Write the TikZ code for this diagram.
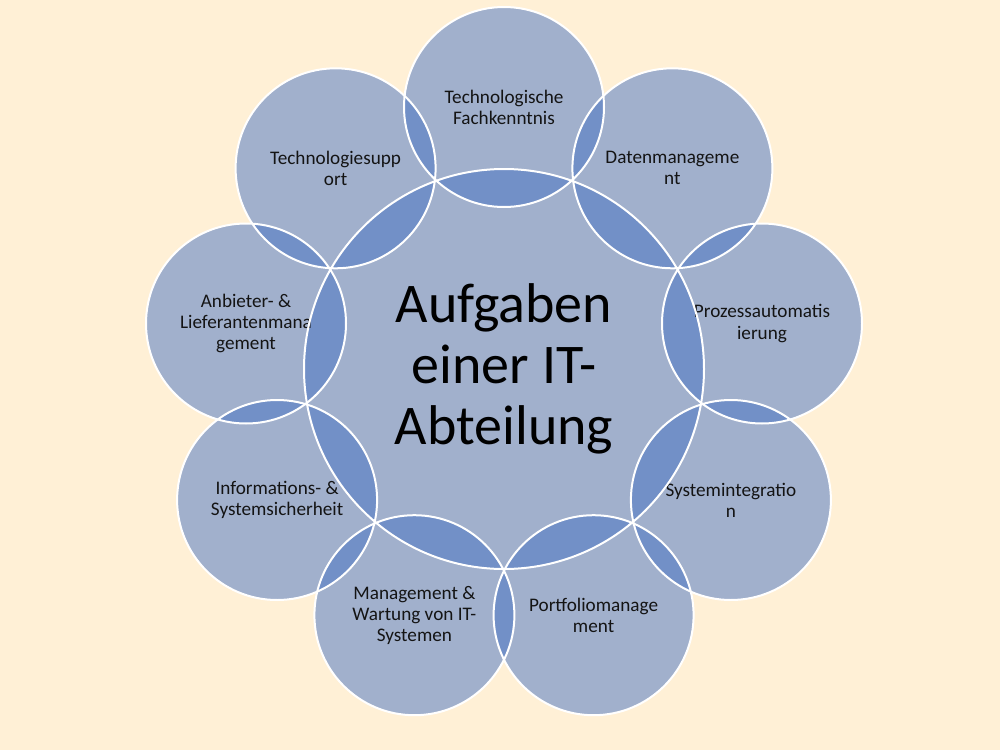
\documentclass[tikz,border=0pt]{standalone}
\usepackage{fontspec}
\setmainfont{Carlito}
\definecolor{bg}{RGB}{255,240,214}
\definecolor{acc}{RGB}{68,114,196}
\definecolor{txt}{RGB}{20,20,20}
\begin{document}
\begin{tikzpicture}[x=0.75pt,y=-0.75pt,
  ring/.style={circle, inner sep=0pt, minimum size=150pt, fill=acc, fill opacity=0.5, text opacity=1, text=txt, align=center, font=\fontsize{14.4}{15.8}\selectfont},
  hub/.style={circle, inner sep=0pt, minimum size=300pt, fill=acc, fill opacity=0.5, text opacity=1, text=black, align=center, font=\fontsize{42}{46}\selectfont},
  rim/.style={draw=white, line width=1.5pt}]
\fill[bg] (0,0) rectangle (1000,750);
\useasboundingbox (0,0) rectangle (1000,750);
\node[hub] (c) at (504,369) {Aufgaben\\einer IT-\\Abteilung};
\node[ring] (n0) at (504,107) {Technologische\\Fachkenntnis};
\node[ring] (n1) at (672.4,168.3) {Datenmanageme\\nt};
\node[ring] (n2) at (762.0,323.5) {Prozessautomatis\\ierung};
\node[ring] (n3) at (730.9,500) {Systemintegratio\\n};
\node[ring] (n4) at (593.6,615.2) {Portfoliomanage\\ment};
\node[ring] (n5) at (414.4,615.2) {Management \&\\Wartung von IT-\\Systemen};
\node[ring] (n6) at (277.1,500) {Informations- \&\\Systemsicherheit};
\node[ring] (n7) at (246.0,323.5) {Anbieter- \&\\Lieferantenmana\\gement};
\node[ring] (n8) at (335.6,168.3) {Technologiesupp\\ort};
\draw[rim] (c.center) circle[radius=200];
\foreach \n in {n0,n1,n2,n3,n4,n5,n6,n7,n8}
  \draw[rim] (\n.center) circle[radius=100];
\end{tikzpicture}
\end{document}
